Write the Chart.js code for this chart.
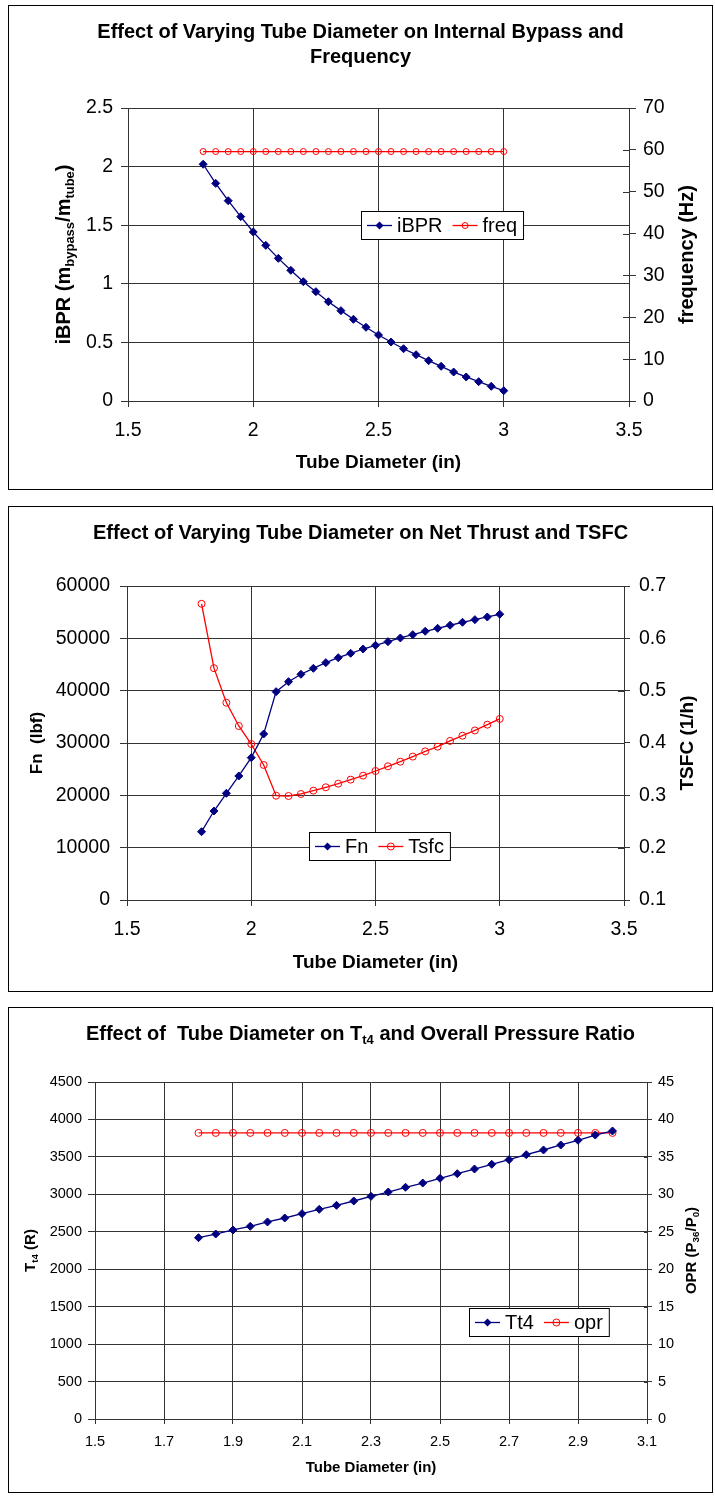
<!DOCTYPE html>
<html>
<head>
<meta charset="utf-8">
<title>Tube diameter charts</title>
<script src="https://cdn.jsdelivr.net/npm/chart.js@4.4.1/dist/chart.umd.min.js"></script>
<style>
  body { margin: 0; background: #fff; }
  .box { position: absolute; left: 8px; width: 703px; border: 1px solid #000; background: #fff; }
  .box canvas { display: block; }
</style>
</head>
<body>
<div class="box" style="top:5px;height:483px"><canvas id="c1" width="703" height="483"></canvas></div>
<div class="box" style="top:506px;height:484px"><canvas id="c2" width="703" height="484"></canvas></div>
<div class="box" style="top:1007px;height:484px"><canvas id="c3" width="703" height="484"></canvas></div>
<script>
// values
const tubeDiameter = [1.8, 1.85, 1.9, 1.95, 2.0, 2.05, 2.1, 2.15, 2.2, 2.25, 2.3, 2.35, 2.4,
                      2.45, 2.5, 2.55, 2.6, 2.65, 2.7, 2.75, 2.8, 2.85, 2.9, 2.95, 3.0];
const iBPR = [2.02, 1.857, 1.709, 1.573, 1.442, 1.328, 1.217, 1.115, 1.018, 0.933, 0.847, 0.771, 0.697,
              0.629, 0.563, 0.503, 0.446, 0.395, 0.344, 0.296, 0.247, 0.205, 0.165, 0.125, 0.088];
const freq = [59.6, 59.6, 59.6, 59.6, 59.6, 59.6, 59.6, 59.6, 59.6, 59.6, 59.6, 59.6, 59.6,
              59.6, 59.6, 59.6, 59.6, 59.6, 59.6, 59.6, 59.6, 59.6, 59.6, 59.6, 59.6];
const fn = [13050, 17000, 20390, 23700, 27200, 31720, 39810, 41720, 43130, 44270, 45350, 46300, 47140,
            47960, 48670, 49360, 50070, 50700, 51350, 51920, 52500, 53070, 53570, 54080, 54600];
const tsfc = [0.666, 0.543, 0.477, 0.4325, 0.398, 0.358, 0.2993, 0.2987, 0.3026, 0.309, 0.3154, 0.3223, 0.330,
              0.3376, 0.3465, 0.3555, 0.3643, 0.374, 0.384, 0.393, 0.404, 0.414, 0.424, 0.435, 0.446];
const tt4 = [2421, 2470, 2524, 2573, 2631, 2684, 2742, 2800, 2853, 2911, 2973, 3031, 3094,
             3151, 3214, 3276, 3338, 3401, 3463, 3530, 3592, 3659, 3722, 3792, 3846];
const opr = [38.2, 38.2, 38.2, 38.2, 38.2, 38.2, 38.2, 38.2, 38.2, 38.2, 38.2, 38.2, 38.2,
             38.2, 38.2, 38.2, 38.2, 38.2, 38.2, 38.2, 38.2, 38.2, 38.2, 38.2, 38.2];

// axis ranges: [min, max, step]
const xRange1 = [1.5, 3.5, 0.5], ibprRange = [0, 2.5, 0.5], freqRange = [0, 70, 10];
const xRange2 = [1.5, 3.5, 0.5], fnRange = [0, 60000, 10000], tsfcRange = [0.1, 0.7, 0.1];
const xRange3 = [1.5, 3.1, 0.2], tt4Range = [0, 4500, 500], oprRange = [0, 45, 5];

const FONT = "'Liberation Sans', Arial, sans-serif";
const GRID = '#333';
const NAVY = '#000080';
const RED = '#ff0000';

function font(size, bold) { return (bold ? 'bold ' : '') + size + 'px ' + FONT; }
function fmt(v) { return String(+v.toFixed(3)); }

function richWidth(ctx, segs, size, bold) {
    let w = 0;
    segs.forEach(s => { ctx.font = font(s.sub ? size * 0.65 : size, bold); w += ctx.measureText(s.t).width; });
    return w;
}

// x is the centre, y the baseline
function drawRich(ctx, segs, x, y, size, bold) {
    let cx = x - richWidth(ctx, segs, size, bold) / 2;
    ctx.textAlign = 'left';
    ctx.textBaseline = 'alphabetic';
    ctx.fillStyle = '#000';
    segs.forEach(s => {
        ctx.font = font(s.sub ? size * 0.65 : size, bold);
        ctx.fillText(s.t, cx, y + (s.sub ? size * 0.22 : 0));
        cx += ctx.measureText(s.t).width;
    });
}

function drawRotated(ctx, segs, bx, cy, size, bold) {
    ctx.save();
    ctx.translate(bx, cy);
    ctx.rotate(-Math.PI / 2);
    drawRich(ctx, segs, 0, 0, size, bold);
    ctx.restore();
}

function drawMarker(ctx, style, x, y, r, color) {
    ctx.beginPath();
    if (style === 'rectRot') {
        ctx.moveTo(x, y - r); ctx.lineTo(x + r, y); ctx.lineTo(x, y + r); ctx.lineTo(x - r, y);
        ctx.closePath();
        ctx.fillStyle = color; ctx.fill();
    } else {
        ctx.arc(x, y, r, 0, Math.PI * 2);
        ctx.strokeStyle = color; ctx.lineWidth = 1; ctx.stroke();
    }
}

function drawLegend(chart, o) {
    const ctx = chart.ctx;
    const pad = 6, sample = 25, gapText = 5, gapItem = 10, h = 28;
    ctx.font = font(o.size, false);
    const items = chart.data.datasets.map(ds => ({ ds, w: ctx.measureText(ds.label).width }));
    const w = pad * 2 + items.reduce((a, it) => a + sample + gapText + it.w, 0) + gapItem * (items.length - 1);
    ctx.fillStyle = '#fff';
    ctx.fillRect(o.x, o.y, w, h);
    ctx.strokeStyle = '#000';
    ctx.lineWidth = 1;
    ctx.strokeRect(o.x + 0.5, o.y + 0.5, w, h);
    let cx = o.x + pad;
    const cy = o.y + h / 2 + 0.5;
    items.forEach(it => {
        ctx.strokeStyle = it.ds.borderColor;
        ctx.lineWidth = it.ds.borderWidth;
        ctx.beginPath(); ctx.moveTo(cx, cy); ctx.lineTo(cx + sample, cy); ctx.stroke();
        drawMarker(ctx, it.ds.pointStyle, cx + sample / 2, cy, it.ds.pointRadius, it.ds.borderColor);
        ctx.font = font(o.size, false);
        ctx.fillStyle = '#000';
        ctx.textAlign = 'left';
        ctx.textBaseline = 'middle';
        ctx.fillText(it.ds.label, cx + sample + gapText, cy + 1);
        cx += sample + gapText + it.w + gapItem;
    });
}

const sketchPlugin = {
    id: 'sketch',
    afterDraw(chart, args, o) {
        const ctx = chart.ctx;
        const area = chart.chartArea;
        // ticks on the inner side of the right axis
        const y2 = chart.scales.y2;
        ctx.save();
        ctx.strokeStyle = GRID;
        ctx.lineWidth = 1;
        y2.ticks.forEach(t => {
            const py = Math.round(y2.getPixelForValue(t.value)) + 0.5;
            ctx.beginPath(); ctx.moveTo(area.right - o.inTick, py); ctx.lineTo(area.right, py); ctx.stroke();
        });
        ctx.restore();

        const midX = chart.width / 2;
        const midY = (area.top + area.bottom) / 2;
        o.title.forEach(line => drawRich(ctx, line.segs, midX, line.y, o.titleSize, true));
        drawRotated(ctx, o.left.segs, o.left.x, midY, o.left.size, true);
        drawRotated(ctx, o.right.segs, o.right.x, midY, o.right.size, true);
        drawRich(ctx, o.bottom.segs, (area.left + area.right) / 2, o.bottom.y, o.bottom.size, true);
        drawLegend(chart, o.legend);
    }
};

function series(label, ys, axis, color, style, r) {
    return {
        label,
        data: tubeDiameter.map((x, i) => ({ x, y: ys[i] })),
        yAxisID: axis,
        borderColor: color,
        backgroundColor: style === 'rectRot' ? color : 'rgba(0,0,0,0)',
        borderWidth: 1.3,
        pointStyle: style,
        pointRadius: r,
        pointBorderWidth: 1,
        pointBackgroundColor: style === 'rectRot' ? color : 'rgba(0,0,0,0)',
        tension: 0
    };
}

function buildChart(id, c) {
    const tickFont = { family: FONT, size: c.tickSize };
    return new Chart(document.getElementById(id), {
        type: 'line',
        data: { datasets: c.datasets },
        options: {
            responsive: false,
            animation: false,
            devicePixelRatio: 1,
            layout: { padding: { top: c.top, left: 0, right: 0, bottom: 0 } },
            plugins: { legend: { display: false }, tooltip: { enabled: false }, sketch: c.text },
            scales: {
                x: {
                    type: 'linear', min: c.x[0], max: c.x[1],
                    afterFit: s => { s.height = c.bottomH; },
                    ticks: { stepSize: c.x[2], font: tickFont, color: '#000', padding: c.xPad,
                             callback: fmt, maxRotation: 0, autoSkip: false },
                    grid: { color: GRID, tickLength: c.xTick },
                    border: { color: GRID }
                },
                y: {
                    position: 'left', min: c.y[0], max: c.y[1],
                    afterFit: s => { s.width = c.leftW; },
                    ticks: { stepSize: c.y[2], font: tickFont, color: '#000', padding: c.yPad, callback: fmt },
                    grid: { color: GRID, tickLength: 7 },
                    border: { color: GRID }
                },
                y2: {
                    position: 'right', min: c.y2[0], max: c.y2[1],
                    afterFit: s => { s.width = c.rightW; },
                    ticks: { stepSize: c.y2[2], font: tickFont, color: '#000', padding: c.y2Pad, callback: fmt },
                    grid: { drawOnChartArea: false, color: GRID, tickLength: c.y2Tick },
                    border: { color: GRID }
                }
            }
        },
        plugins: [sketchPlugin]
    });
}

buildChart('c1', {
    datasets: [
        series('iBPR', iBPR, 'y', NAVY, 'rectRot', 4),
        series('freq', freq, 'y2', RED, 'circle', 3)
    ],
    x: xRange1, y: ibprRange, y2: freqRange,
    top: 102, leftW: 119, rightW: 83, bottomH: 88,
    tickSize: 19.5, xPad: 12, xTick: 6, yPad: 8, y2Pad: 7, y2Tick: 7,
    text: {
        inTick: 6,
        titleSize: 20,
        title: [
            { segs: [{ t: 'Effect of Varying Tube Diameter on Internal Bypass and' }], y: 32 },
            { segs: [{ t: 'Frequency' }], y: 57 }
        ],
        left: { segs: [{ t: 'iBPR (m' }, { t: 'bypass', sub: true }, { t: '/m' }, { t: 'tube', sub: true }, { t: ')' }], x: 61, size: 20 },
        right: { segs: [{ t: 'frequency (Hz)' }], x: 684, size: 20 },
        bottom: { segs: [{ t: 'Tube Diameter (in)' }], y: 462, size: 19 },
        legend: { x: 352, y: 205, size: 20 }
    }
});

buildChart('c2', {
    datasets: [
        series('Fn', fn, 'y', NAVY, 'rectRot', 4),
        series('Tsfc', tsfc, 'y2', RED, 'circle', 3.5)
    ],
    x: xRange2, y: fnRange, y2: tsfcRange,
    top: 79, leftW: 118, rightW: 88, bottomH: 91,
    tickSize: 19.5, xPad: 12, xTick: 6, yPad: 10, y2Pad: 9, y2Tick: 6,
    text: {
        inTick: 6,
        titleSize: 20,
        title: [{ segs: [{ t: 'Effect of Varying Tube Diameter on Net Thrust and TSFC' }], y: 32 }],
        left: { segs: [{ t: 'Fn  (lbf)' }], x: 33, size: 17 },
        right: { segs: [{ t: 'TSFC (1/h)' }], x: 684, size: 19 },
        bottom: { segs: [{ t: 'Tube Diameter (in)' }], y: 461, size: 19 },
        legend: { x: 300, y: 325, size: 20 }
    }
});

buildChart('c3', {
    datasets: [
        series('Tt4', tt4, 'y', NAVY, 'rectRot', 4),
        series('opr', opr, 'y2', RED, 'circle', 3.5)
    ],
    x: xRange3, y: tt4Range, y2: oprRange,
    top: 74, leftW: 86, rightW: 65, bottomH: 73,
    tickSize: 14.5, xPad: 9, xTick: 5, yPad: 6, y2Pad: 6, y2Tick: 5,
    text: {
        inTick: 3,
        titleSize: 20,
        title: [{ segs: [{ t: 'Effect of  Tube Diameter on T' }, { t: 't4', sub: true }, { t: ' and Overall Pressure Ratio' }], y: 32 }],
        left: { segs: [{ t: 'T' }, { t: 't4', sub: true }, { t: ' (R)' }], x: 26, size: 15 },
        right: { segs: [{ t: 'OPR (P' }, { t: '36', sub: true }, { t: '/P' }, { t: '0', sub: true }, { t: ')' }], x: 687, size: 15 },
        bottom: { segs: [{ t: 'Tube Diameter (in)' }], y: 464, size: 15 },
        legend: { x: 460, y: 300, size: 20 }
    }
});
</script>
</body>
</html>
